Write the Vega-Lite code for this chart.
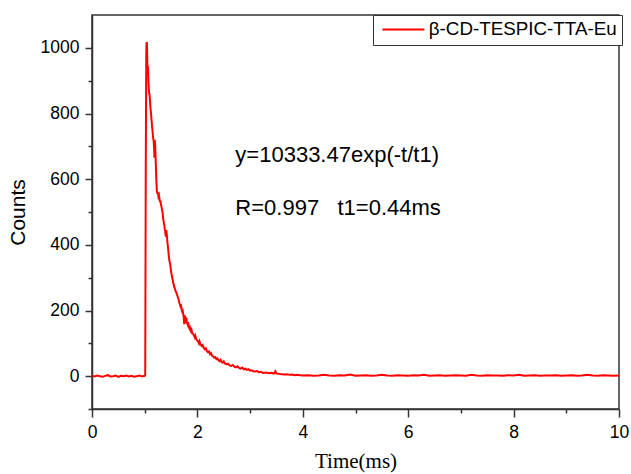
{
  "$schema": "https://vega.github.io/schema/vega-lite/v6.json",
  "width": 527,
  "height": 394,
  "autosize": {"type": "none"},
  "padding": {"left": 92, "top": 15, "right": 12, "bottom": 65},
  "background": "white",
  "config": {
    "view": {"stroke": "#333333", "strokeWidth": 1.5},
    "axis": {
      "grid": false,
      "domainColor": "#333333",
      "domainWidth": 1.5,
      "tickColor": "#333333",
      "tickWidth": 1.5,
      "labelFont": "Liberation Sans",
      "labelFontSize": 17.5,
      "labelColor": "#000000",
      "titleColor": "#000000",
      "titleFontWeight": "normal"
    }
  },
  "datasets": {
    "decay": [
      {"t": 0, "c": 1}, {"t": 0.05, "c": -1}, {"t": 0.1, "c": 2}, {"t": 0.15, "c": 0}, {"t": 0.2, "c": -2},
      {"t": 0.25, "c": 1}, {"t": 0.3, "c": 3}, {"t": 0.35, "c": -1}, {"t": 0.4, "c": 0}, {"t": 0.45, "c": 2},
      {"t": 0.5, "c": -2}, {"t": 0.55, "c": 1}, {"t": 0.6, "c": 0}, {"t": 0.65, "c": 2}, {"t": 0.7, "c": -1},
      {"t": 0.75, "c": 1}, {"t": 0.8, "c": -2}, {"t": 0.85, "c": 0}, {"t": 0.9, "c": 2}, {"t": 0.95, "c": -1},
      {"t": 1.0, "c": 1}, {"t": 1.01, "c": 3},
      {"t": 1.02, "c": 620}, {"t": 1.03, "c": 985}, {"t": 1.035, "c": 1015}, {"t": 1.04, "c": 1018}, {"t": 1.045, "c": 995},
      {"t": 1.05, "c": 950}, {"t": 1.055, "c": 935}, {"t": 1.06, "c": 945}, {"t": 1.065, "c": 930}, {"t": 1.07, "c": 900},
      {"t": 1.08, "c": 870}, {"t": 1.085, "c": 858}, {"t": 1.09, "c": 862}, {"t": 1.1, "c": 840}, {"t": 1.11, "c": 815},
      {"t": 1.12, "c": 800}, {"t": 1.13, "c": 780}, {"t": 1.14, "c": 760}, {"t": 1.15, "c": 745}, {"t": 1.16, "c": 725},
      {"t": 1.17, "c": 718}, {"t": 1.18, "c": 690}, {"t": 1.185, "c": 665}, {"t": 1.19, "c": 720}, {"t": 1.2, "c": 700},
      {"t": 1.21, "c": 650}, {"t": 1.22, "c": 600}, {"t": 1.23, "c": 565}, {"t": 1.24, "c": 555}, {"t": 1.25, "c": 560},
      {"t": 1.26, "c": 548}, {"t": 1.27, "c": 552}, {"t": 1.28, "c": 540}, {"t": 1.29, "c": 530}, {"t": 1.3, "c": 535},
      {"t": 1.31, "c": 522}, {"t": 1.32, "c": 515}, {"t": 1.33, "c": 505}, {"t": 1.34, "c": 498}, {"t": 1.35, "c": 480},
      {"t": 1.36, "c": 470}, {"t": 1.37, "c": 462}, {"t": 1.38, "c": 450}, {"t": 1.39, "c": 440}, {"t": 1.4, "c": 425},
      {"t": 1.41, "c": 445}, {"t": 1.42, "c": 430}, {"t": 1.43, "c": 410}, {"t": 1.44, "c": 395}, {"t": 1.45, "c": 380},
      {"t": 1.46, "c": 362}, {"t": 1.47, "c": 350}, {"t": 1.48, "c": 345}, {"t": 1.49, "c": 333}, {"t": 1.5, "c": 320},
      {"t": 1.51, "c": 310}, {"t": 1.52, "c": 300}, {"t": 1.53, "c": 295}, {"t": 1.54, "c": 285}, {"t": 1.55, "c": 280},
      {"t": 1.56, "c": 272}, {"t": 1.57, "c": 268}, {"t": 1.58, "c": 262}, {"t": 1.59, "c": 258}, {"t": 1.6, "c": 255},
      {"t": 1.61, "c": 250}, {"t": 1.62, "c": 245}, {"t": 1.63, "c": 240}, {"t": 1.64, "c": 236}, {"t": 1.65, "c": 228},
      {"t": 1.66, "c": 222}, {"t": 1.67, "c": 218}, {"t": 1.68, "c": 212}, {"t": 1.69, "c": 214}, {"t": 1.7, "c": 205},
      {"t": 1.71, "c": 198}, {"t": 1.72, "c": 200}, {"t": 1.73, "c": 190}, {"t": 1.74, "c": 180}, {"t": 1.75, "c": 158},
      {"t": 1.76, "c": 185}, {"t": 1.77, "c": 175}, {"t": 1.78, "c": 170}, {"t": 1.79, "c": 178}, {"t": 1.8, "c": 165},
      {"t": 1.81, "c": 160}, {"t": 1.82, "c": 155}, {"t": 1.83, "c": 158}, {"t": 1.84, "c": 150}, {"t": 1.85, "c": 145},
      {"t": 1.86, "c": 148}, {"t": 1.87, "c": 140}, {"t": 1.88, "c": 136}, {"t": 1.89, "c": 140}, {"t": 1.9, "c": 132},
      {"t": 1.92, "c": 128}, {"t": 1.94, "c": 122}, {"t": 1.95, "c": 118}, {"t": 1.96, "c": 123}, {"t": 1.98, "c": 112},
      {"t": 2.0, "c": 108}, {"t": 2.02, "c": 104}, {"t": 2.03, "c": 100}, {"t": 2.04, "c": 106}, {"t": 2.06, "c": 97},
      {"t": 2.08, "c": 92}, {"t": 2.1, "c": 95}, {"t": 2.12, "c": 86}, {"t": 2.14, "c": 82}, {"t": 2.16, "c": 85},
      {"t": 2.18, "c": 76}, {"t": 2.2, "c": 73}, {"t": 2.22, "c": 75}, {"t": 2.24, "c": 67}, {"t": 2.26, "c": 70},
      {"t": 2.28, "c": 62}, {"t": 2.3, "c": 60}, {"t": 2.32, "c": 56}, {"t": 2.34, "c": 58}, {"t": 2.36, "c": 52},
      {"t": 2.38, "c": 54}, {"t": 2.4, "c": 48}, {"t": 2.42, "c": 46}, {"t": 2.44, "c": 50}, {"t": 2.46, "c": 43},
      {"t": 2.48, "c": 41}, {"t": 2.5, "c": 45}, {"t": 2.52, "c": 39}, {"t": 2.55, "c": 36}, {"t": 2.58, "c": 38},
      {"t": 2.61, "c": 33}, {"t": 2.64, "c": 31}, {"t": 2.67, "c": 34}, {"t": 2.7, "c": 29}, {"t": 2.73, "c": 27},
      {"t": 2.76, "c": 30}, {"t": 2.79, "c": 25}, {"t": 2.82, "c": 23}, {"t": 2.85, "c": 26}, {"t": 2.88, "c": 21},
      {"t": 2.91, "c": 23}, {"t": 2.94, "c": 19}, {"t": 2.97, "c": 21}, {"t": 3.0, "c": 17}, {"t": 3.03, "c": 18},
      {"t": 3.06, "c": 15}, {"t": 3.1, "c": 14}, {"t": 3.13, "c": 16}, {"t": 3.16, "c": 12}, {"t": 3.2, "c": 13},
      {"t": 3.25, "c": 10}, {"t": 3.3, "c": 11}, {"t": 3.35, "c": 9}, {"t": 3.4, "c": 10}, {"t": 3.45, "c": 8},
      {"t": 3.48, "c": 15}, {"t": 3.5, "c": 8}, {"t": 3.55, "c": 7}, {"t": 3.6, "c": 6}, {"t": 3.65, "c": 5},
      {"t": 3.7, "c": 6}, {"t": 3.75, "c": 4}, {"t": 3.8, "c": 5}, {"t": 3.85, "c": 3}, {"t": 3.9, "c": 4},
      {"t": 3.95, "c": 3}, {"t": 4.0, "c": 2},
      {"t": 4.1, "c": 3}, {"t": 4.2, "c": 1}, {"t": 4.3, "c": 2}, {"t": 4.4, "c": 4}, {"t": 4.5, "c": 2},
      {"t": 4.6, "c": 1}, {"t": 4.7, "c": 3}, {"t": 4.8, "c": 2}, {"t": 4.9, "c": 5}, {"t": 5.0, "c": 1},
      {"t": 5.1, "c": 2}, {"t": 5.2, "c": 3}, {"t": 5.3, "c": 1}, {"t": 5.4, "c": 2}, {"t": 5.5, "c": 4},
      {"t": 5.6, "c": 2}, {"t": 5.7, "c": 1}, {"t": 5.8, "c": 3}, {"t": 5.9, "c": 2}, {"t": 6.0, "c": 1},
      {"t": 6.1, "c": 3}, {"t": 6.2, "c": 2}, {"t": 6.3, "c": 4}, {"t": 6.4, "c": 1}, {"t": 6.5, "c": 2},
      {"t": 6.6, "c": 3}, {"t": 6.7, "c": 1}, {"t": 6.8, "c": 2}, {"t": 6.9, "c": 3}, {"t": 7.0, "c": 2},
      {"t": 7.1, "c": 1}, {"t": 7.2, "c": 4}, {"t": 7.3, "c": 2}, {"t": 7.4, "c": 1}, {"t": 7.5, "c": 3},
      {"t": 7.6, "c": 2}, {"t": 7.7, "c": 2}, {"t": 7.8, "c": 1}, {"t": 7.9, "c": 3}, {"t": 8.0, "c": 2},
      {"t": 8.1, "c": 4}, {"t": 8.2, "c": 1}, {"t": 8.3, "c": 2}, {"t": 8.4, "c": 3}, {"t": 8.5, "c": 1},
      {"t": 8.6, "c": 2}, {"t": 8.7, "c": 2}, {"t": 8.8, "c": 3}, {"t": 8.9, "c": 1}, {"t": 9.0, "c": 2},
      {"t": 9.1, "c": 3}, {"t": 9.2, "c": 1}, {"t": 9.3, "c": 2}, {"t": 9.4, "c": 4}, {"t": 9.5, "c": 2},
      {"t": 9.6, "c": 1}, {"t": 9.7, "c": 3}, {"t": 9.8, "c": 2}, {"t": 9.9, "c": 1}, {"t": 10.0, "c": 2}
    ],
    "notes": [
      {"t": 2.72, "c": 673, "note": "y=10333.47exp(-t/t1)"},
      {"t": 2.72, "c": 512, "note": "R=0.997\u00a0\u00a0\u00a0t1=0.44ms"}
    ]
  },
  "encoding": {
    "x": {
      "field": "t", "type": "quantitative",
      "scale": {"domain": [0, 10], "nice": false, "zero": false},
      "axis": {
        "title": "Time(ms)",
        "titleFont": "Liberation Serif",
        "titleFontSize": 21,
        "titlePadding": 10,
        "values": [0, 1, 2, 3, 4, 5, 6, 7, 8, 9, 10],
        "labelExpr": "datum.value % 2 === 0 ? datum.label : ''",
        "tickSize": {"condition": {"test": "datum.value % 2 === 0", "value": 8}, "value": 4},
        "labelPadding": 6,
        "labelFlush": false
      }
    },
    "y": {
      "field": "c", "type": "quantitative",
      "scale": {"domain": [-100, 1100], "nice": false, "zero": false},
      "axis": {
        "title": "Counts",
        "titleFont": "Liberation Sans",
        "titleFontSize": 21,
        "titlePadding": 12,
        "values": [-100, 0, 100, 200, 300, 400, 500, 600, 700, 800, 900, 1000],
        "labelExpr": "datum.value % 200 === 0 ? '' + datum.value : ''",
        "tickSize": {"condition": {"test": "datum.value % 200 === 0", "value": 7}, "value": 4},
        "labelPadding": 6
      }
    }
  },
  "layer": [
    {
      "data": {"name": "decay"},
      "mark": {"type": "line", "strokeWidth": 2, "clip": true},
      "encoding": {
        "color": {
          "datum": "β-CD-TESPIC-TTA-Eu",
          "scale": {"range": ["#ff0000"]},
          "legend": {
            "title": null,
            "orient": "none",
            "legendX": 281,
            "legendY": 0,
            "symbolType": "M-3.5,0H3.5",
            "symbolSize": 144,
            "symbolStrokeWidth": 2,
            "symbolOffset": 16,
            "labelFont": "Liberation Sans",
            "labelFontSize": 18.8,
            "labelColor": "#000000",
            "labelOffset": 16,
            "labelLimit": 400,
            "padding": 5,
            "strokeColor": "#333333",
            "fillColor": "white"
          }
        }
      }
    },
    {
      "data": {"name": "notes"},
      "mark": {"type": "text", "align": "left", "baseline": "middle", "font": "Liberation Sans", "fontSize": 22, "fill": "#000000"},
      "encoding": {
        "text": {"field": "note", "type": "nominal"}
      }
    }
  ]
}
